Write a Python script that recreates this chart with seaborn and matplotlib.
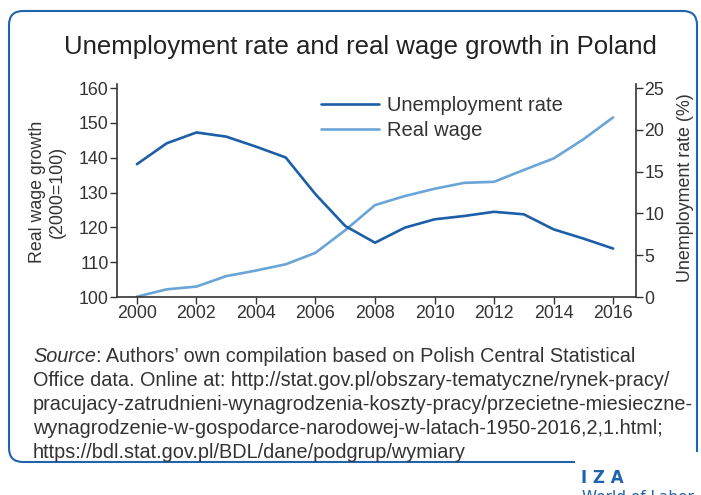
import matplotlib
matplotlib.use("Agg")
import matplotlib.pyplot as plt
import seaborn as sns
import pandas as pd
from matplotlib.path import Path
from matplotlib.patches import PathPatch
from matplotlib.lines import Line2D
from matplotlib.offsetbox import TextArea, HPacker, AnchoredOffsetbox

years = list(range(2000, 2017))
unemployment = [15.9, 18.4, 19.7, 19.2, 18.0, 16.7, 12.3, 8.5, 6.5, 8.3, 9.3, 9.7, 10.2, 9.9, 8.1, 7.0, 5.8]
real_wage = [100.1, 102.2, 103.0, 106.0, 107.6, 109.4, 112.7, 119.2, 126.4, 129.0, 131.1, 132.8, 133.1, 136.5, 139.8, 145.3, 151.6]
x_ticks = list(range(2000, 2017, 2))
left_ticks = [100, 110, 120, 130, 140, 150, 160]
right_ticks = [0, 5, 10, 15, 20, 25]

title = "Unemployment rate and real wage growth in Poland"
source_first = ": Authors\u2019 own compilation based on Polish Central Statistical"
source_lines = [
    "Office data. Online at: http://stat.gov.pl/obszary-tematyczne/rynek-pracy/",
    "pracujacy-zatrudnieni-wynagrodzenia-koszty-pracy/przecietne-miesieczne-",
    "wynagrodzenie-w-gospodarce-narodowej-w-latach-1950-2016,2,1.html;",
    "https://bdl.stat.gov.pl/BDL/dane/podgrup/wymiary",
]

df = pd.DataFrame({"year": years, "unemp": unemployment, "wage": real_wage})

sns.set_style("white")
FONT = ["Liberation Sans", "DejaVu Sans"]
plt.rcParams["font.family"] = FONT
TXT = "#333333"
DARK = "#1c5ea8"
LIGHT = "#6ba4d6"
BORDER = "#1f64ad"

W, H = 701, 495
fig = plt.figure(figsize=(W / 100, H / 100), dpi=100)

# background frame
bg = fig.add_axes([0, 0, 1, 1])
bg.set_xlim(0, W)
bg.set_ylim(H, 0)
bg.axis("off")
r = 14
L, T, R, B = 9, 11, 697, 462
verts = [
    (575, B), (L + r, B), (L, B), (L, B - r), (L, T + r), (L, T), (L + r, T),
    (R - r, T), (R, T), (R, T + r), (R, 452),
]
codes = [Path.MOVETO, Path.LINETO, Path.CURVE3, Path.CURVE3, Path.LINETO, Path.CURVE3, Path.CURVE3,
         Path.LINETO, Path.CURVE3, Path.CURVE3, Path.LINETO]
bg.add_patch(PathPatch(Path(verts, codes), fill=False, edgecolor=BORDER, lw=1.5))
bg.text(581, 478, "I Z A", color=BORDER, fontsize=12, fontweight="bold", ha="left", va="center",
        family=["DejaVu Sans"])
bg.text(582, 497, "World of Labor", color=BORDER, fontsize=11, ha="left", va="center", family=["DejaVu Sans"])

fig.text(360 / W, 1 - 47 / H, title, ha="center", va="center", fontsize=18.5, color="#222222")

ax = fig.add_axes([117 / W, 1 - 297 / H, (636 - 117) / W, (297 - 84) / H])
ax2 = ax.twinx()

sns.lineplot(data=df, x="year", y="wage", ax=ax, color=LIGHT, lw=1.9, legend=False)
sns.lineplot(data=df, x="year", y="unemp", ax=ax2, color=DARK, lw=1.9, legend=False)

ax.set_xlim(1999.33, 2016.77)
ax.set_ylim(100, 161.2)
ax2.set_ylim(0, 25 * 61.2 / 60)
ax.set_xticks(x_ticks)
ax.set_yticks(left_ticks)
ax2.set_yticks(right_ticks)

for a in (ax, ax2):
    for s in a.spines.values():
        s.set_visible(False)
    a.tick_params(axis="both", which="both", direction="out", length=5, width=1, color=TXT,
                  labelsize=12.8, labelcolor=TXT, pad=1)
ax.spines["left"].set_visible(True)
ax.spines["bottom"].set_visible(True)
ax2.spines["right"].set_visible(True)
for s in (ax.spines["left"], ax.spines["bottom"], ax2.spines["right"]):
    s.set_color(TXT)
    s.set_linewidth(1.2)
ax.tick_params(left=True, bottom=True)
ax2.tick_params(right=True)

ax.set_xlabel("")
ax.set_ylabel("")
ax2.set_ylabel("")
fig.text(37 / W, 1 - 192 / H, "Real wage growth", rotation=90, ha="center", va="center",
         fontsize=12.8, color=TXT)
fig.text(57 / W, 1 - 192 / H, "(2000=100)", rotation=90, ha="center", va="center",
         fontsize=12.8, color=TXT)
fig.text(685 / W, 1 - 188 / H, "Unemployment rate (%)", rotation=90, ha="center", va="center",
         fontsize=12.9, color=TXT)

handles = [Line2D([], [], color=DARK, lw=1.9), Line2D([], [], color=LIGHT, lw=1.9)]
ax.legend(handles, ["Unemployment rate", "Real wage"], loc="upper left",
          bbox_to_anchor=((313 - 117) / (636 - 117), 0.98), frameon=False, fontsize=14.5,
          handlelength=2.9, handletextpad=0.35, labelspacing=0.3, labelcolor=TXT,
          borderaxespad=0)

# source
fs = 14.3
y0 = 357
hp = HPacker(children=[TextArea("Source", textprops=dict(style="italic", fontsize=fs, color=TXT)),
                       TextArea(source_first, textprops=dict(fontsize=fs, color=TXT))],
             pad=0, sep=0, align="baseline")
ab = AnchoredOffsetbox(loc="center left", child=hp, pad=0, borderpad=0, frameon=False,
                       bbox_to_anchor=(33 / W, 1 - y0 / H), bbox_transform=fig.transFigure)
fig.add_artist(ab)
for i, line in enumerate(source_lines):
    fig.text(33 / W, 1 - (y0 + 24 * (i + 1)) / H, line, fontsize=fs, color=TXT, va="center", ha="left")

fig.savefig("out.png", dpi=100)
